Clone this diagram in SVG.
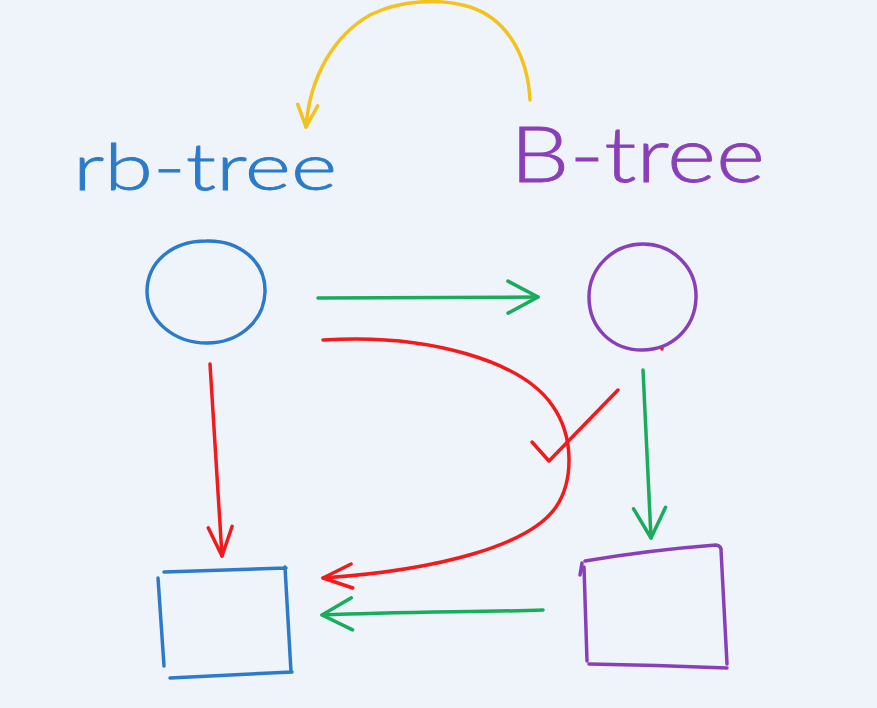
<svg xmlns="http://www.w3.org/2000/svg" width="877" height="708" viewBox="0 0 877 708">
<style>
.s{fill:none;stroke-width:3.5;stroke-linecap:round;stroke-linejoin:round}
.blue{stroke:#2b7bca}
.purple{stroke:#8a3fba}
.green{stroke:#17ad5c}
.red{stroke:#f21a1a}
.yellow{stroke:#f4c21c}
.lbl{font-family:"Lato","Open Sans","Liberation Sans",sans-serif;font-weight:300}
</style>
<defs>
<marker id="ag" markerUnits="userSpaceOnUse" refX="0" refY="0" orient="auto" overflow="visible"><path d="M-30,-16 L0,0 L-30,16" fill="none" stroke="#17ad5c" stroke-width="3.5" stroke-linecap="round" stroke-linejoin="round"/></marker>
<marker id="ar" markerUnits="userSpaceOnUse" refX="0" refY="0" orient="auto" overflow="visible"><path d="M-29,-12 L0,0 L-29,12" fill="none" stroke="#f21a1a" stroke-width="3.5" stroke-linecap="round" stroke-linejoin="round"/></marker>
<marker id="ay" markerUnits="userSpaceOnUse" refX="0" refY="0" orient="auto" overflow="visible"><path d="M-22,-10 L0,0 L-22,10" fill="none" stroke="#f4c21c" stroke-width="3.5" stroke-linecap="round" stroke-linejoin="round"/></marker>
</defs>
<rect width="877" height="708" fill="#eff3fa"/>
<g id="label-rb-tree"><text class="lbl" x="73" y="190" font-size="66" fill="#2b7bca" stroke="#2b7bca" stroke-width="0.8" textLength="264" lengthAdjust="spacingAndGlyphs">rb-tree</text></g>
<g id="label-b-tree"><text class="lbl" x="510" y="182" font-size="76" fill="#8a3fba" stroke="#8a3fba" stroke-width="0.8" textLength="255" lengthAdjust="spacingAndGlyphs">B-tree</text></g>
<g id="rb-node"><path class="s blue" d="M206,241 C240,240 266,262 265,292 C264,322 238,343 207,343 C175,343 148,322 147,292 C147,262 172,241 206,241 Z"/></g>
<g id="b-node"><path class="s purple" d="M643,244 C673,244 697,268 696,298 C695,328 672,350 642,350 C612,350 589,328 589,297 C589,268 613,244 643,244 Z"/><circle cx="662" cy="349" r="1.8" fill="#f21a1a"/></g>
<g id="rb-box"><path class="s blue" d="M164,572 L286,568 M285,567 L291,672 M170,678 L292,672 M158,578 L164,666"/></g>
<g id="b-box"><path class="s purple" d="M585,561 Q650,550 716,545 Q722,546 721,552 M721,550 L727,664 M589,664 Q655,665 727,668 M584,567 L587,661 M580,575 L582,563"/></g>
<g id="connectors">
<path class="s yellow" d="M530,100 C528,60 510,20 470,7 C440,-2 400,0 370,15 C335,35 310,75 306,127" marker-end="url(#ay)"/>
<path class="s green" d="M318,298 L538,297" marker-end="url(#ag)"/>
<path class="s red" d="M210,364 L222,556" marker-end="url(#ar)"/>
<path class="s red" d="M323,340 C430,333 522,362 552,405 C575,437 573,482 556,507 C530,545 440,570 323,578" marker-end="url(#ar)"/>
<path class="s green" d="M643,370 L651,538" marker-end="url(#ag)"/>
<path class="s green" d="M543,610 C480,612 400,612 322,615" marker-end="url(#ag)"/>
</g>
<g id="check"><path class="s red" d="M532,442 L549,461 L618,390"/></g>
</svg>
